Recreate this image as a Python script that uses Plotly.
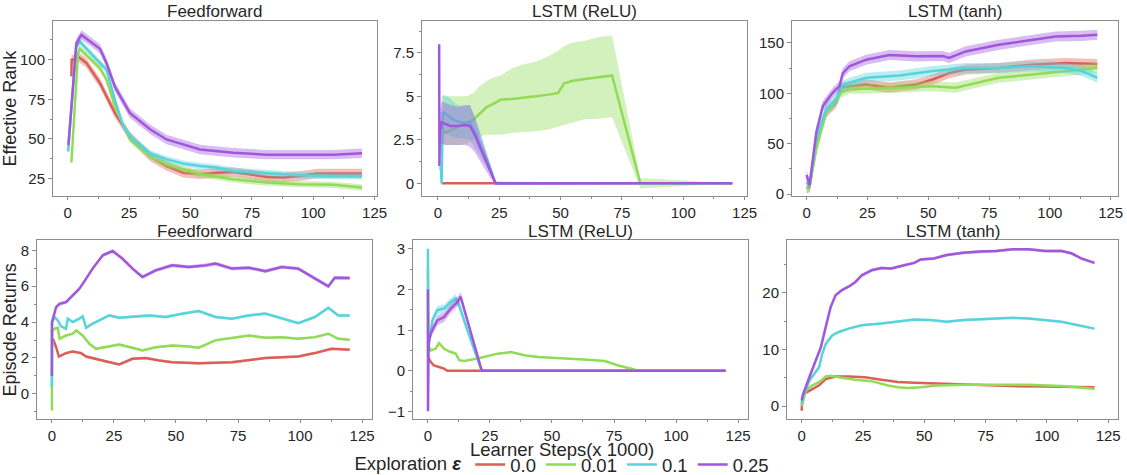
import plotly.graph_objects as go

W, H = 1127, 475

EPS = ["0.0", "0.01", "0.1", "0.25"]
COLORS = {"0.0": "#db5f57", "0.01": "#91db57", "0.1": "#57d3db", "0.25": "#a157db"}

# ---------------- Effective Rank : Feedforward ----------------
ff_rank = {
    "0.0": dict(x=[1.5, 1.6, 2.2, 4.2, 7.6, 13.1, 15.8, 19.2, 25.3, 33.5, 40.3, 47.1, 53.9, 60.7, 67.5, 74.3, 81.1, 87.9, 94.7, 101.5, 119.9],
                y=[89.5, 100, 100, 102, 98, 85.3, 76.9, 66.4, 51.7, 39, 32.8, 28.6, 27.6, 28.6, 29, 27.6, 25.9, 25.5, 26.5, 28, 28],
                err=3.0),
    "0.01": dict(x=[1.5, 4.2, 4.9, 9.0, 13.1, 15.8, 19.2, 25.3, 33.5, 40.3, 47.1, 53.9, 67.5, 81.1, 94.7, 108.3, 119.9],
                 y=[35, 104, 107, 101, 94.8, 87.4, 70.6, 49.6, 39, 33.8, 30.7, 27.6, 24.4, 22.3, 21.3, 20.9, 19.2],
                 err=2.0),
    "0.1": dict(x=[0.2, 0.5, 3.5, 4.9, 13.1, 15.8, 19.2, 22.6, 26.7, 33.5, 40.3, 47.1, 53.9, 60.7, 67.5, 81.1, 94.7, 108.3, 119.9],
                y=[42, 50, 108, 111.5, 98, 93.7, 74.8, 58, 49.6, 41, 37, 34.3, 32.8, 31.8, 29.7, 28.2, 27, 26.5, 26.5],
                err=2.0),
    "0.25": dict(x=[0.3, 3.5, 5.6, 9.0, 13.1, 15.8, 19.2, 25.3, 33.5, 40.3, 53.9, 67.5, 81.1, 94.7, 108.3, 119.9],
                 y=[46, 110.5, 115.7, 112, 107, 98, 83, 66.4, 56, 49.6, 43.3, 41.2, 40, 40, 40, 40.8],
                 err=3.0),
}

# ---------------- Effective Rank : LSTM (ReLU) ----------------
relu_rank = {
    "0.0": dict(x=[1.5, 120], y=[0, 0], err=0.0),
    "0.01": dict(x=[1.5, 3, 6, 9, 12, 14.5, 17, 20, 23, 25.5, 30, 34, 40, 45, 49, 51.5, 55, 60, 65, 68, 71, 82.5, 120],
                 y=[3.0, 2.9, 3.1, 3.3, 3.5, 3.66, 4.0, 4.4, 4.6, 4.8, 4.85, 4.9, 5.0, 5.1, 5.2, 5.75, 5.9, 6.0, 6.1, 6.15, 6.2, 0.0, 0.0],
                 lo=[2.2, 2.2, 2.2, 2.2, 2.3, 2.5, 2.7, 2.8, 2.8, 2.8, 2.9, 2.95, 3.0, 3.1, 3.3, 3.4, 3.5, 3.7, 3.7, 3.75, 3.8, -0.3, 0.0],
                 hi=[5.0, 5.0, 5.0, 5.0, 5.0, 5.2, 5.6, 5.9, 6.1, 6.2, 6.6, 6.8, 7.0, 7.3, 7.6, 7.9, 8.1, 8.2, 8.4, 8.45, 8.5, 0.3, 0.0]),
    "0.1": dict(x=[0.5, 1.2, 1.5, 2, 4, 7, 10, 13, 15, 18, 21, 23.5, 120],
                y=[0.9, 0.9, 0.0, 4.1, 3.9, 3.6, 3.5, 3.5, 3.0, 2.0, 1.0, 0.0, 0.0],
                lo=[0.9, 0.9, 0.0, 3.1, 2.8, 2.6, 2.6, 2.5, 2.1, 1.4, 0.7, 0.0, 0.0],
                hi=[0.9, 0.9, 0.0, 5.1, 5.0, 4.6, 4.4, 4.5, 3.9, 2.6, 1.3, 0.0, 0.0]),
    "0.25": dict(x=[0.5, 0.6, 0.8, 1.5, 3, 5, 8, 11, 13, 15, 18, 21, 23.5, 120],
                 y=[8.0, 1.0, 3.0, 3.5, 3.4, 3.3, 3.3, 3.35, 3.3, 2.8, 1.8, 0.8, 0.0, 0.0],
                 lo=[8.0, 1.0, 2.0, 2.3, 2.2, 2.2, 2.2, 2.2, 2.1, 1.8, 1.1, 0.4, -0.1, 0.0],
                 hi=[8.0, 1.0, 4.0, 4.7, 4.6, 4.5, 4.4, 4.5, 4.5, 3.8, 2.5, 1.2, 0.1, 0.0]),
}

# ---------------- Effective Rank : LSTM (tanh) ----------------
tanh_rank = {
    "0.0": dict(x=[0, 1.2, 4, 8, 12.2, 14.2, 17.6, 24.5, 34, 45, 51.8, 58.6, 65.4, 79, 92.7, 106.4, 119.5],
                y=[6, 7, 48.5, 81, 91, 105.6, 107, 108.8, 105.6, 108.8, 113.7, 120, 123.5, 125, 128.4, 130, 129],
                err=5.0),
    "0.01": dict(x=[0, 1.2, 4, 8, 12.2, 14.2, 17.6, 24.5, 38.1, 51.8, 61.2, 65.4, 79, 92.7, 106.4, 119.5],
                 y=[6, 7, 45, 81, 92.7, 100.7, 104.6, 104.6, 105.6, 107, 105.6, 108, 115.4, 118.6, 122, 125],
                 err=5.0),
    "0.1": dict(x=[0, 1.2, 4, 8, 12.2, 14.2, 17.6, 24.5, 38.1, 51.8, 65.4, 79, 92.7, 106.4, 113.2, 119.5],
                y=[12, 8, 55, 84.3, 94, 107, 110.5, 115.4, 117.6, 122, 125, 125, 126.8, 125, 122, 115.4],
                err=5.0),
    "0.25": dict(x=[0, 1.2, 4, 6.7, 10.8, 13.5, 14.9, 17.6, 24.5, 34, 45, 55.9, 58.6, 65.4, 79, 92.7, 102.3, 113.2, 119.5],
                 y=[19, 9, 61.5, 87.5, 100.7, 107, 120, 126.8, 133.3, 138, 136.6, 137, 135, 141.5, 148, 153, 156.2, 156.9, 158],
                 err=5.0),
}

# ---------------- Episode Returns : Feedforward ----------------
ff_ret = {
    "0.0": dict(x=[0, 0.4, 1.7, 2.8, 5.7, 8.4, 11.8, 13.8, 19.1, 23.1, 27.1, 32.5, 37.8, 43.2, 48.5, 59.2, 72.6, 86, 99.3, 106, 112.7, 120],
                y=[3.0, 3.07, 2.6, 2.08, 2.27, 2.36, 2.27, 2.08, 1.9, 1.76, 1.64, 1.95, 2.0, 1.86, 1.76, 1.71, 1.76, 2.0, 2.08, 2.27, 2.51, 2.46],
                err=0.07),
    "0.01": dict(x=[0, 0.05, 1.1, 2.4, 3.1, 5.7, 8.4, 9.8, 12.4, 15.1, 17.8, 23.1, 27.1, 32.5, 36.5, 41.8, 48.5, 55.2, 59.2, 65.9, 72.6, 79.3, 86, 92.6, 99.3, 106, 111.4, 115.4, 120],
                 y=[-0.93, 3.5, 3.63, 3.68, 3.07, 3.25, 3.35, 3.53, 3.25, 2.79, 2.51, 2.64, 2.75, 2.57, 2.42, 2.6, 2.7, 2.64, 2.57, 2.98, 3.13, 3.25, 3.13, 3.16, 3.07, 3.16, 3.35, 3.07, 3.01],
                 err=0.07),
    "0.1": dict(x=[0, 0.05, 1.1, 2.4, 3.7, 5.7, 6.4, 8.4, 11.1, 12.4, 13.8, 16.4, 19.1, 23.1, 27.1, 32.5, 39.2, 45.9, 52.5, 59.2, 65.9, 72.6, 79.3, 86, 92.6, 99.3, 106, 111.4, 115.4, 120],
                y=[0.37, 4.0, 4.28, 4.09, 3.76, 3.63, 4.19, 4.0, 4.19, 4.32, 3.68, 3.91, 4.09, 4.37, 4.24, 4.28, 4.37, 4.28, 4.47, 4.61, 4.28, 4.19, 4.37, 4.47, 4.19, 3.94, 4.28, 4.8, 4.37, 4.37],
                err=0.08),
    "0.25": dict(x=[0, 0.05, 1.7, 3.1, 5.7, 8.4, 11.1, 13.8, 16.4, 20.5, 24.5, 28.5, 32.5, 36.5, 41.8, 48.5, 55.2, 61.9, 65.9, 72.6, 79.3, 86, 92.6, 99.3, 106, 111.4, 114, 120],
                 y=[1.0, 4.0, 4.83, 5.02, 5.11, 5.49, 5.86, 6.42, 6.98, 7.72, 7.96, 7.53, 6.98, 6.51, 6.88, 7.16, 7.07, 7.16, 7.26, 6.98, 7.03, 6.84, 7.07, 6.98, 6.42, 5.99, 6.47, 6.45],
                 err=0.1),
}

# ---------------- Episode Returns : LSTM (ReLU) ----------------
relu_ret = {
    "0.0": dict(x=[0, 0.4, 1.1, 2.4, 5.1, 6.5, 7.8, 120],
                y=[0.3, 0.3, 0.22, 0.13, 0.08, 0.05, 0.0, 0.0], err=0.01),
    "0.01": dict(x=[0, 0.4, 1.1, 3.1, 4.5, 6.5, 9.2, 11.2, 12.6, 14.6, 20.0, 22.7, 28.1, 33.5, 38.9, 44.3, 51.0, 57.8, 64.5, 71.3, 76.7, 82.0, 84.7, 120],
                 y=[2.5, 0.59, 0.5, 0.54, 0.68, 0.54, 0.46, 0.42, 0.26, 0.24, 0.3, 0.34, 0.42, 0.46, 0.38, 0.34, 0.32, 0.3, 0.27, 0.24, 0.13, 0.05, 0.0, 0.0],
                 err=0.02),
    "0.1": dict(x=[0, 0.1, 0.3, 1.8, 3.8, 6.5, 9.2, 11.2, 12.6, 15.9, 20.0, 21.7, 120],
                y=[3.0, 0.5, 0.6, 1.24, 1.49, 1.53, 1.69, 1.78, 1.61, 1.0, 0.26, 0.0, 0.0],
                lo=[3.0, 0.5, 0.55, 1.14, 1.39, 1.43, 1.59, 1.68, 1.51, 0.92, 0.22, 0.0, 0.0],
                hi=[3.0, 0.5, 0.65, 1.34, 1.59, 1.63, 1.79, 1.88, 1.71, 1.08, 0.3, 0.0, 0.0]),
    "0.25": dict(x=[0, 0.05, 0.1, 0.3, 1.1, 3.8, 6.5, 9.2, 11.9, 13.2, 21.7, 120],
                 y=[2.0, -1.0, 0.5, 0.7, 0.91, 1.24, 1.32, 1.53, 1.69, 1.82, 0.0, 0.0],
                 lo=[2.0, -1.0, 0.5, 0.6, 0.8, 1.12, 1.2, 1.42, 1.58, 1.7, 0.0, 0.0],
                 hi=[2.0, -1.0, 0.5, 0.8, 1.02, 1.36, 1.44, 1.64, 1.8, 1.94, 0.0, 0.0]),
}

# ---------------- Episode Returns : LSTM (tanh) ----------------
tanh_ret = {
    "0.0": dict(x=[0, 0.2, 1.1, 4.4, 7.1, 9.8, 13.8, 19.1, 25.8, 32.5, 39.2, 45.9, 59.2, 72.6, 86, 99.3, 112.7, 119.4],
                y=[-0.8, 1.0, 2.2, 3.1, 3.7, 4.8, 5.25, 5.25, 5.1, 4.66, 4.25, 4.13, 3.95, 3.66, 3.54, 3.48, 3.36, 3.36],
                err=0.1),
    "0.01": dict(x=[0, 1.7, 4.4, 7.1, 9.8, 11.8, 16.4, 21.8, 28.5, 35.2, 39.2, 43.2, 48.5, 55.2, 65.9, 79.3, 92.6, 106, 119.4],
                 y=[0.0, 2.8, 3.66, 4.25, 5.25, 5.37, 5.0, 4.66, 4.42, 3.66, 3.36, 3.19, 3.36, 3.66, 3.78, 3.83, 3.78, 3.54, 3.07],
                 err=0.1),
    "0.1": dict(x=[0, 0.4, 3.1, 5.7, 7.1, 8.4, 9.8, 12.4, 15.1, 19.1, 24.5, 32.5, 39.2, 45.9, 52.5, 59.2, 65.9, 72.6, 79.3, 86, 92.6, 99.3, 106, 112.7, 119.4],
                y=[0.4, 1.5, 4.5, 6.0, 6.9, 9.3, 11.0, 12.5, 13.1, 13.7, 14.3, 14.6, 14.9, 15.3, 15.2, 14.9, 15.2, 15.3, 15.4, 15.6, 15.5, 15.2, 14.9, 14.3, 13.7],
                err=0.2),
    "0.25": dict(x=[0, 0.4, 3.1, 5.7, 7.8, 9.8, 11.8, 13.8, 16.4, 19.1, 21.8, 24.5, 28.5, 32.5, 36.5, 41.8, 45.9, 48.5, 53.9, 59.2, 65.9, 72.6, 79.3, 86, 92.6, 99.3, 106, 110, 114, 119.4],
                 y=[1.0, 1.9, 5.1, 8.1, 10.4, 14.0, 17.5, 19.6, 20.5, 21.1, 21.9, 23.1, 24.0, 24.4, 24.3, 24.9, 25.3, 25.9, 26.1, 26.7, 27.1, 27.3, 27.4, 27.7, 27.7, 27.4, 27.4, 27.0, 26.1, 25.3],
                 err=0.25),
}

TITLES = ["Feedforward", "LSTM (ReLU)", "LSTM (tanh)", "Feedforward", "LSTM (ReLU)", "LSTM (tanh)"]
X_TITLE = "Learner Steps(x 1000)"
PANELS = [ff_rank, relu_rank, tanh_rank, ff_ret, relu_ret, tanh_ret]

# panel boxes in pixels: (left, right, top, bottom)
BOXES = [(53, 377, 21, 196), (422, 747, 21, 196), (792, 1118, 21, 196),
         (37, 372, 240, 419), (413, 748, 240, 419), (787, 1118, 240, 419)]
XRANGES = [[-6, 126], [-6.5, 126], [-6, 128], [-6, 129], [-6, 129], [-6, 129]]
YRANGES = [[13.7, 124.5], [-0.74, 9.33], [-2, 171.6], [-1.43, 8.56], [-1.2, 3.21], [-2.35, 29.3]]
YDTICK = [25, 2.5, 50, 2, 1, 10]
TITLE_Y = [11, 11, 11, 231, 231, 231]

# a container-anchored legend reserves this many px at the bottom of the plot area
RESERVED = 29.5
PH = H - RESERVED


def py(px):
    """pixel row (from top) -> paper fraction of the reduced plot area"""
    return 1 - px / PH


def rgba(hexc, a):
    h = hexc.lstrip("#")
    return "rgba(%d,%d,%d,%s)" % (int(h[0:2], 16), int(h[2:4], 16), int(h[4:6], 16), a)


fig = go.Figure()
AX = "#8c8c8c"
TXT = "#262626"
FONT = "Liberation Sans, Arial, sans-serif"
TICK_SIZE = 15

for i, panel in enumerate(PANELS):
    xa = "x" if i == 0 else "x%d" % (i + 1)
    ya = "y" if i == 0 else "y%d" % (i + 1)
    for e in EPS:
        s = panel[e]
        xs, ys = s["x"], s["y"]
        if "lo" in s:
            lo, hi = s["lo"], s["hi"]
        else:
            lo = [v - s["err"] for v in ys]
            hi = [v + s["err"] for v in ys]
        fig.add_trace(go.Scatter(x=xs + xs[::-1], y=hi + lo[::-1], fill="toself",
                                 fillcolor=rgba(COLORS[e], 0.4), line=dict(width=0),
                                 mode="lines", hoverinfo="skip", showlegend=False,
                                 legendgroup=e, xaxis=xa, yaxis=ya))
        fig.add_trace(go.Scatter(x=xs, y=ys, mode="lines", name=e, legendgroup=e,
                                 line=dict(color=COLORS[e], width=2.5),
                                 showlegend=(i == 0), xaxis=xa, yaxis=ya))

layout = {}
for i in range(6):
    l, r, t, b = BOXES[i]
    xk = "xaxis" if i == 0 else "xaxis%d" % (i + 1)
    yk = "yaxis" if i == 0 else "yaxis%d" % (i + 1)
    common = dict(showline=True, mirror=True, linecolor=AX, linewidth=1, showgrid=False,
                  zeroline=False, ticks="outside", tickcolor=AX, automargin=False,
                  tickfont=dict(size=TICK_SIZE, color=TXT, family=FONT))
    layout[xk] = dict(domain=[l / W, r / W], range=XRANGES[i], dtick=25, tick0=0,
                      anchor="y" if i == 0 else "y%d" % (i + 1), ticklen=3,
                      minor=dict(dtick=12.5, ticklen=2, tickcolor=AX, ticks="outside"),
                      **common)
    layout[yk] = dict(domain=[py(b), py(t)], range=YRANGES[i], dtick=YDTICK[i], tick0=0,
                      anchor="x" if i == 0 else "x%d" % (i + 1), ticklen=4,
                      minor=dict(dtick=YDTICK[i] / 2, ticklen=2, tickcolor=AX, ticks="outside"),
                      **common)

layout["yaxis"]["title"] = dict(text="Effective Rank", font=dict(size=18, color=TXT, family=FONT), standoff=4)
layout["yaxis4"]["title"] = dict(text="Episode Returns", font=dict(size=18, color=TXT, family=FONT), standoff=4)

annotations = []
for i in range(6):
    l, r, t, b = BOXES[i]
    annotations.append(dict(text=TITLES[i], x=(l + r) / 2 / W, y=py(TITLE_Y[i]), xref="paper", yref="paper",
                            xanchor="center", yanchor="middle", showarrow=False,
                            font=dict(size=17, color=TXT, family=FONT)))
# shared x-axis title under the middle bottom panel
annotations.append(dict(text=X_TITLE, x=562 / W, y=py(448.5), xref="paper", yref="paper",
                        xanchor="center", yanchor="middle", showarrow=False,
                        font=dict(size=18.5, color=TXT, family=FONT)))

fig.update_layout(
    width=W, height=H,
    margin=dict(l=0, r=0, t=0, b=0),
    paper_bgcolor="white", plot_bgcolor="white",
    font=dict(family=FONT, color=TXT),
    annotations=annotations,
    showlegend=True,
    legend=dict(orientation="h", x=0.5, xanchor="center", xref="container", yref="container",
                y=(H - 465) / H, yanchor="middle",
                title=dict(text="Exploration <b><i>ε</i></b>", font=dict(size=18.5, color=TXT, family=FONT)),
                font=dict(size=18.5, color=TXT, family=FONT), itemwidth=30,
                tracegroupgap=0, bgcolor="rgba(0,0,0,0)", itemclick=False),
    **layout,
)

fig.write_html("out.html", config={"displayModeBar": False},
               post_script="document.body.style.margin='0';document.body.style.overflow='hidden';")
